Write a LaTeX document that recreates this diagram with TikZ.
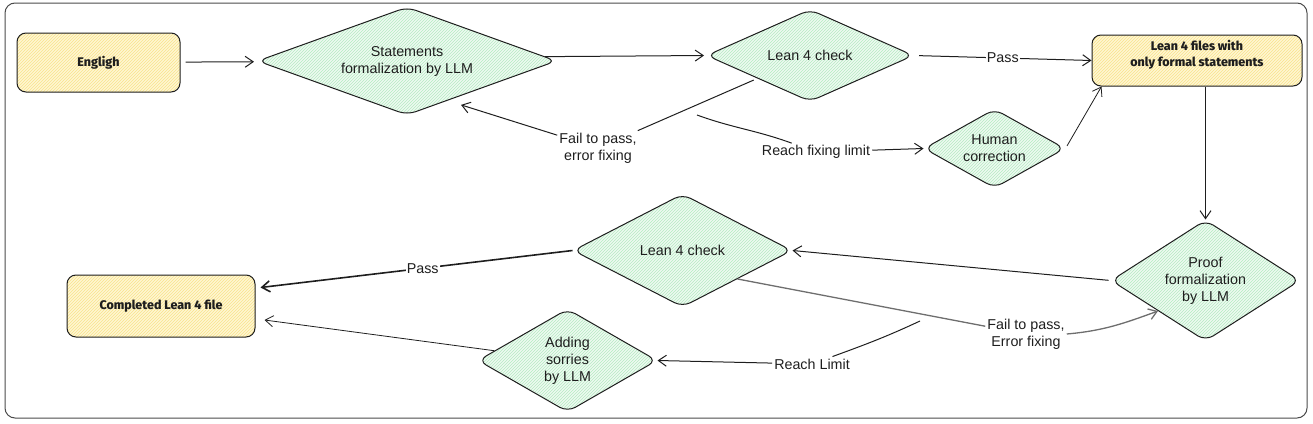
\documentclass[tikz,border=0pt]{standalone}
\usepackage{fontspec}
\setmainfont{Liberation Sans}
\newfontfamily\heavy{Fira Sans}[BoldFont={Fira Sans ExtraBold}]
\usetikzlibrary{shapes.geometric,arrows.meta,patterns,calc}
\definecolor{gfill}{HTML}{EEFAF1}
\definecolor{ghatch}{HTML}{B5EBC2}
\definecolor{yfill}{HTML}{FFF6D2}
\definecolor{yhatch}{HTML}{F8E38C}
\definecolor{ink}{HTML}{1E1E1E}
\definecolor{greyln}{HTML}{6E6E6E}
\tikzset{
  handfont/.style={font=\fontsize{14.3}{17}\selectfont},
  heavyfont/.style={font=\heavy\bfseries\fontsize{12.5}{16}\selectfont},
  dia/.style={shape=diamond, draw=ink, line width=1pt, rounded corners=9pt,
    preaction={fill=gfill}, pattern=north east lines, pattern color=ghatch,
    inner sep=0pt, align=center, handfont, text=ink},
  ybox/.style={draw=ink, line width=1pt, rounded corners=9pt,
    preaction={fill=yfill}, pattern=north east lines, pattern color=yhatch,
    inner sep=0pt, align=center, text=ink, heavyfont},
  lbl/.style={handfont, align=center, inner sep=2pt, text=ink},
  arr/.style={-{Straight Barb[length=8pt,width=11pt]}, line width=1pt, draw=ink},
  plain/.style={line width=1pt, draw=ink},
}
\begin{document}
\begin{tikzpicture}[x=1pt,y=-1pt]
\useasboundingbox (0,0) rectangle (1313,423);
% frame
\draw[draw=ink!80, line width=1pt, rounded corners=10pt] (5,3) rectangle (1307,418);

% nodes
\node[ybox, minimum width=163pt, minimum height=59pt] (eng) at (98.5,62.5) {Engligh};
\node[dia, aspect=2.77, minimum width=299pt, minimum height=108pt] (stm) at (407,61) {Statements\\formalization by LLM};
\node[dia, aspect=2.25, minimum width=207pt, minimum height=92pt] (lc1) at (810,55.5) {Lean 4 check};
\node[ybox, minimum width=210pt, minimum height=51pt,
  label={[anchor=north, yshift=-2pt, align=center, text=ink, heavyfont]north:{Lean 4 files with\\only formal statements}}] (lf) at (1197,60.5) {};
\node[dia, aspect=1.78, minimum width=141pt, minimum height=79pt] (hum) at (994.5,148.5) {Human\\correction};
\node[dia, aspect=1.56, minimum width=189pt, minimum height=121pt] (prf) at (1205.5,280.5) {Proof\\formalization\\by LLM};
\node[dia, aspect=1.94, minimum width=219pt, minimum height=113pt] (lc2) at (682.5,250.5) {Lean 4 check};
\node[dia, aspect=1.74, minimum width=179pt, minimum height=103pt] (add) at (567.5,360.5) {Adding\\sorries\\by LLM};
\node[ybox, minimum width=188pt, minimum height=62pt] (cmp) at (161,306) {Completed Lean 4 file};

% labels
\node[lbl] (fail1) at (598,148) {Fail to pass,\\error fixing};
\node[lbl] (reach1) at (816,152) {Reach fixing limit};
\node[lbl] (fail2) at (1026,334) {Fail to pass,\\Error fixing};
\node[lbl] (reach2) at (812,364) {Reach Limit};
\coordinate (rf0) at (697,115);
\coordinate (rl0) at (920,321);

% connectors
\draw[arr, shorten <=5pt, shorten >=5pt] (eng) -- (stm);
\draw[arr, shorten >=2pt] ($(stm.east)!0.08!(stm.north)$) -- (lc1.west);
\draw[arr, shorten <=5pt] (lc1.east) -- node[lbl, fill=white, inner sep=1pt]{Pass} (lf.west);
\draw[plain, shorten <=4pt] (lc1) -- (fail1);
\draw[arr] (fail1) -- ($(stm.south)!0.36!(stm.east)+(0,9)$);
\draw[plain] (rf0) to[out=-20,in=160] (reach1);
\draw[arr] (reach1) -- (hum.west);
\draw[arr, line width=0.8pt, shorten <=3pt] (hum.east) -- ([xshift=10pt]lf.south west);
\draw[arr] (lf.south -| prf.north) -- (prf.north);
\draw[arr, shorten <=2pt] (prf.west) -- (lc2.east);
\draw[arr, line width=1.6pt] (lc2.west) -- node[lbl, fill=white, inner sep=1pt, pos=0.48]{Pass} ([xshift=5pt,yshift=-13pt]cmp.north east);
\draw[line width=1.3pt, draw=greyln] (lc2.south east) -- (fail2);
\draw[arr, line width=1.3pt, draw=greyln] (fail2.east) to[out=5,in=200] (prf.south west);
\draw[plain] (rl0) to[out=205,in=20] (reach2);
\draw[arr] (reach2) -- (add.east);
\draw[arr, line width=0.8pt] (add) -- ([xshift=9pt,yshift=-14pt]cmp.east);
\end{tikzpicture}
\end{document}
